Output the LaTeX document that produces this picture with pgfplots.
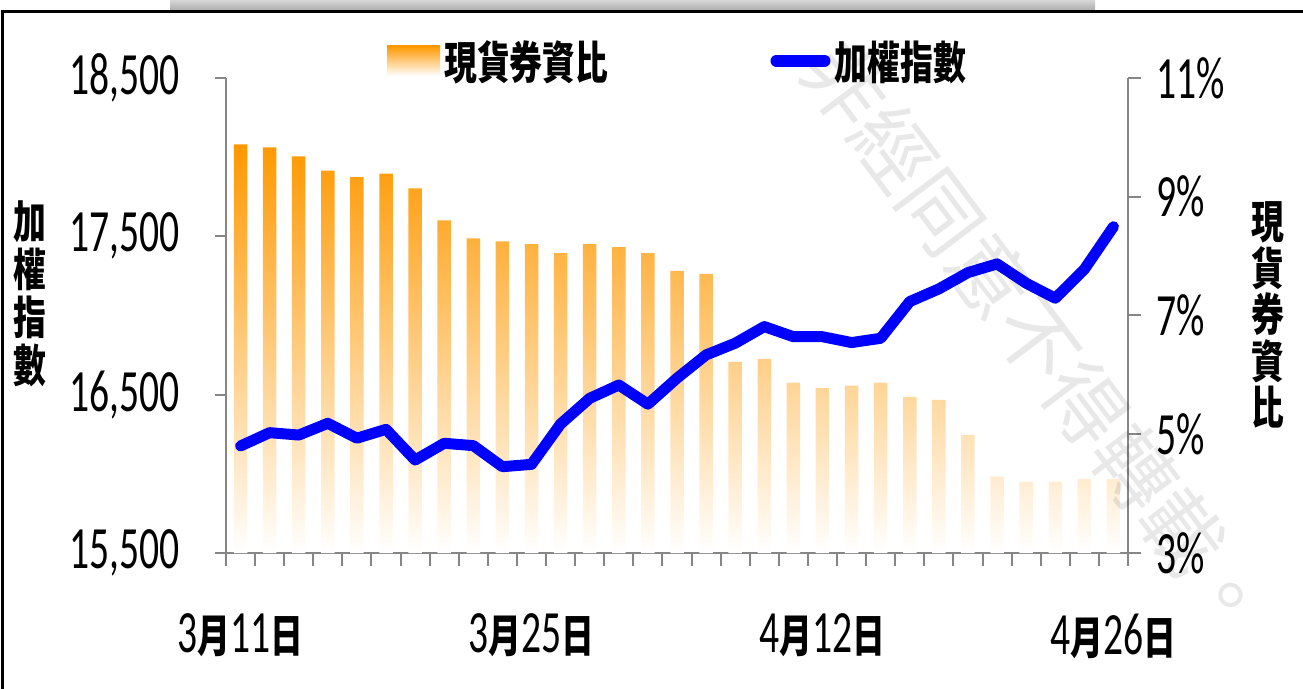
\documentclass[border=0pt]{standalone}
\usepackage{fontspec}
\usepackage{pgfplots}
\usepackage{pgfplotstable}
\pgfplotsset{compat=1.18}
\setmainfont{Carlito}[FakeStretch=0.66]
\newfontfamily\cjkfont{Noto Sans CJK TC}[FakeStretch=0.73]
\newfontfamily\wm{Noto Sans CJK TC}
\newcommand{\cjk}{\cjkfont\bfseries}
\definecolor{barorange}{RGB}{255,152,0}
\definecolor{axgray}{RGB}{134,134,134}
\definecolor{lineblue}{RGB}{0,0,255}
\newcommand{\zh}[1]{{\cjk\fontsize{45}{45}\selectfont #1}}

\pgfplotstableread{
x pct
0 9.88
1 9.83
2 9.68
3 9.44
4 9.33
5 9.39
6 9.14
7 8.60
8 8.30
9 8.25
10 8.20
11 8.05
12 8.20
13 8.15
14 8.05
15 7.75
16 7.70
17 6.22
18 6.27
19 5.87
20 5.78
21 5.82
22 5.87
23 5.63
24 5.58
25 4.99
26 4.29
27 4.20
28 4.20
29 4.25
30 4.25
}\bardata

\pgfplotstableread{
x idx
0 16176
1 16260
2 16245
3 16319
4 16225
5 16281
6 16087
7 16193
8 16178
9 16045
10 16060
11 16315
12 16477
13 16561
14 16440
15 16604
16 16751
17 16825
18 16930
19 16866
20 16866
21 16829
22 16856
23 17088
24 17168
25 17271
26 17326
27 17204
28 17109
29 17292
30 17561
}\linedata

\begin{document}
\begin{tikzpicture}
\useasboundingbox (0,0) rectangle (1303pt,688pt);
\shade[top color=gray!25, bottom color=gray!70] (170pt,676pt) rectangle (1095pt,690pt);
\draw[line width=3pt] (2pt,-20pt) rectangle (1330pt,676pt);

% bars on right axis
\begin{axis}[
  at={(226pt,135pt)}, anchor=south west,
  scale only axis, width=902pt, height=475pt,
  xmin=-0.5, xmax=30.5, ymin=0, ymax=8,
  axis x line*=bottom, axis y line*=right,
  axis line style={draw=axgray, line width=2.5pt},
  tick style={draw=axgray, line width=2pt},
  tick align=outside,
  major tick length=13pt,
  xtick={-0.5,0.5,...,30.5},
  xticklabels={3\zh{月}11\zh{日},,,,,,,,,,3\zh{月}25\zh{日},,,,,,,,,,4\zh{月}12\zh{日},,,,,,,,,,4\zh{月}26\zh{日},},
  xticklabel style={font=\fontsize{60}{60}\selectfont, xshift=14.55pt, yshift=-44pt},
  ytick={0,2,4,6,8},
  yticklabels={3\%,5\%,7\%,9\%,11\%},
  yticklabel style={font=\fontsize{60}{60}\selectfont, anchor=west, xshift=12pt},
  legend style={draw=none, fill=none, at={(0.1752,1.036)}, anchor=west,
    font=\cjk\fontsize{45}{45}\selectfont, legend columns=2,
    /tikz/every odd column/.append style={column sep=2pt},
    /tikz/every even column/.append style={column sep=160pt}},
  clip=false,
]
\addplot[ybar, bar width=13.5pt, draw=none, top color=barorange, bottom color=white,
  y filter/.expression={y-3},
  legend image code/.code={\shade[top color=barorange, bottom color=white] (0pt,-15pt) rectangle (53pt,15pt);}]
  table[x=x,y=pct]{\bardata};
\addlegendentry{現貨券資比}
\addlegendimage{legend image code/.code={\draw[lineblue, line width=12pt, line cap=round] (6pt,0pt) -- (54pt,0pt);}}
\addlegendentry{加權指數}
\end{axis}

% line on left axis
\begin{axis}[
  at={(226pt,135pt)}, anchor=south west,
  scale only axis, width=902pt, height=475pt,
  xmin=-0.5, xmax=30.5, ymin=15500, ymax=18500,
  axis x line=none, axis y line*=left,
  axis line style={draw=axgray, line width=2.5pt},
  tick style={draw=axgray, line width=2pt},
  tick align=outside,
  major tick length=11pt,
  ytick={15500,16500,17500,18500},
  scaled y ticks=false,
  /pgf/number format/assume math mode=true,
  /pgf/number format/1000 sep={,},
  yticklabel style={font=\fontsize{60}{60}\selectfont, anchor=east, xshift=-32pt},
]
\addplot[lineblue, line width=11pt, line join=round, line cap=round, no marks]
  table[x=x,y=idx]{\linedata};
\end{axis}

\node[font=\cjk\fontsize{45}{48}\selectfont, align=center] at (30pt,394pt) {加\\權\\指\\數};
\node[font=\cjk\fontsize{45}{46.5}\selectfont, align=center] at (1268pt,373pt) {現\\貨\\券\\資\\比};
\node[rotate=-53, font=\wm\fontsize{80}{80}\selectfont, text=black, opacity=0.09] at (1038pt,348pt) {非經同意不得轉載。};
\end{tikzpicture}
\end{document}
